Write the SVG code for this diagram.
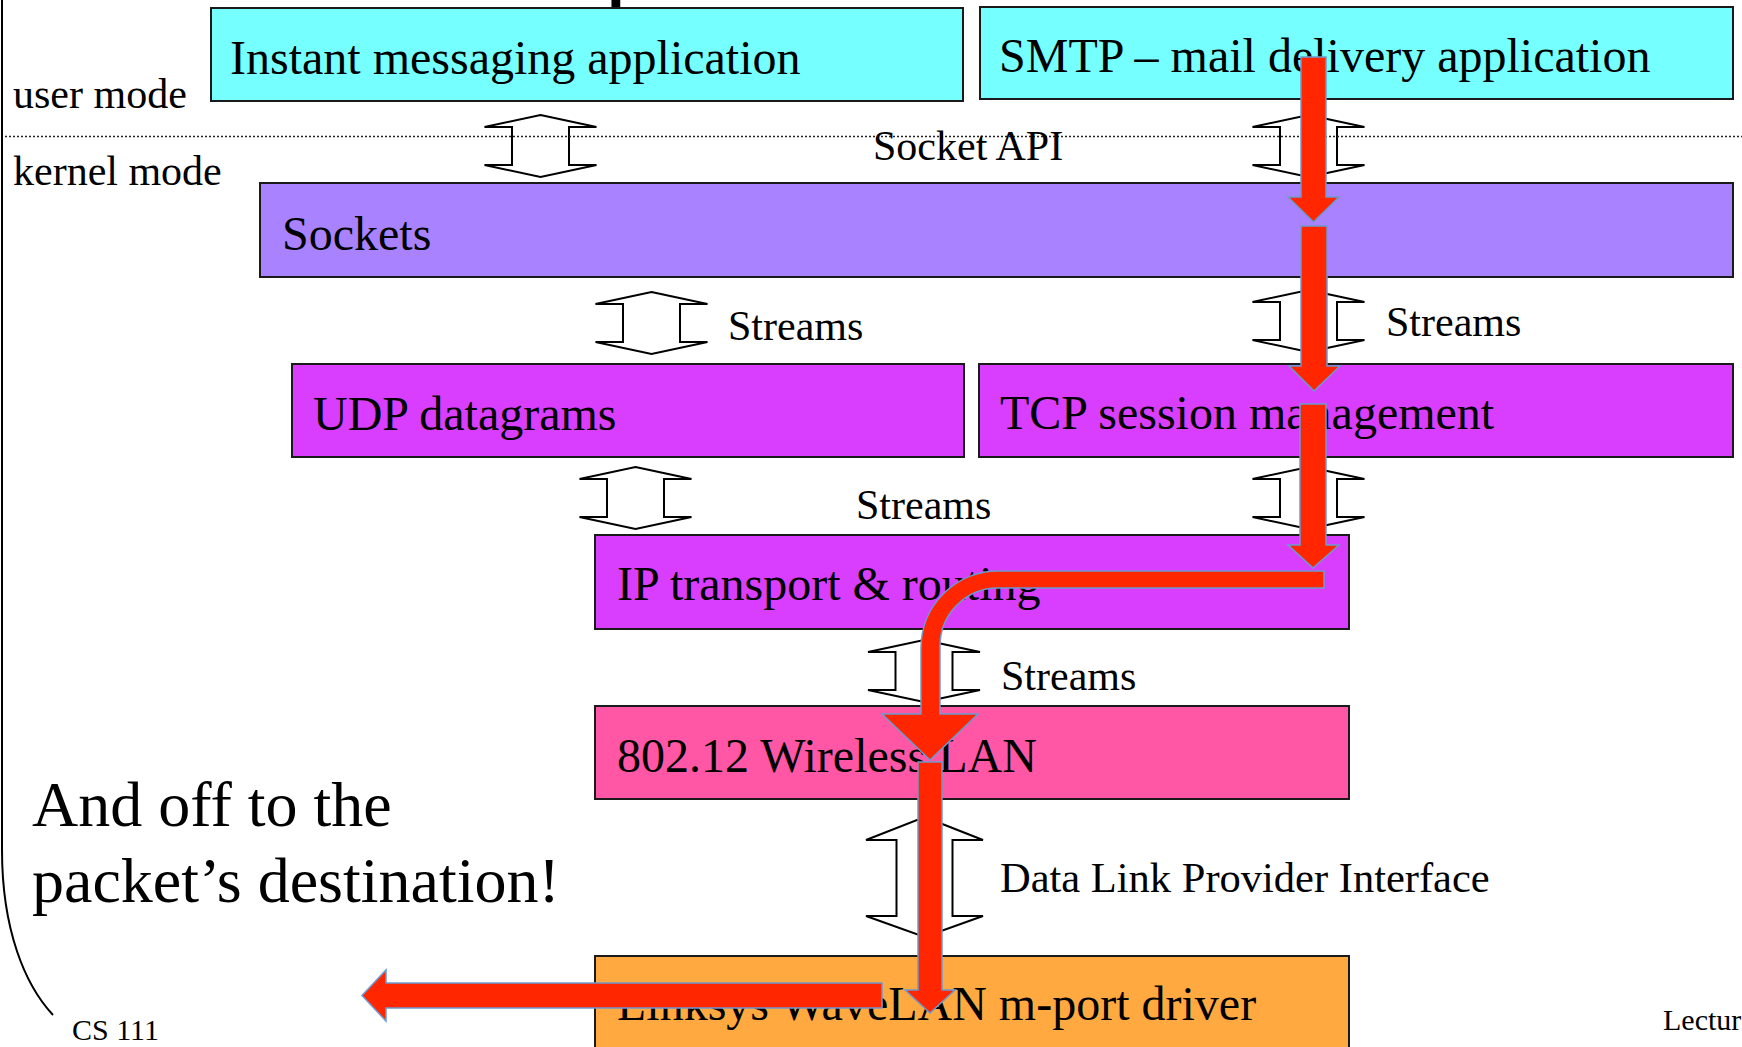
<svg xmlns="http://www.w3.org/2000/svg" width="1742" height="1047" viewBox="0 0 1742 1047">
  <style>
    .box { stroke: #1a1a1a; stroke-width: 2; }
    .app { fill: #75FFFF; }
    .sock { fill: #A982FF; }
    .proto { fill: #D93EFF; }
    .wlan { fill: #FF57A5; }
    .drv { fill: #FFA940; }
    .lbl { font-family: "Liberation Serif", "Times New Roman", serif; font-size: 48px; fill: #000; }
    .note { font-family: "Liberation Serif", "Times New Roman", serif; font-size: 42px; fill: #000; }
    .big { font-family: "Liberation Serif", "Times New Roman", serif; font-size: 64px; fill: #000; }
    .foot { font-family: "Liberation Serif", "Times New Roman", serif; font-size: 30px; fill: #000; }
    .title { font-family: "Liberation Sans", Arial, sans-serif; font-size: 64px; font-weight: bold; fill: #000; }
    .dbl { fill: #fff; stroke: #000; stroke-width: 2; stroke-linejoin: miter; }
    .flow { fill: #FF2600; stroke: #6C9BCF; stroke-width: 1.5; stroke-linejoin: miter; }
  </style>
  <defs>
    <!-- standard two-headed interface arrow, tip at origin, 62 tall -->
    <path id="dbl" d="M0,0 L56,12 L28.5,12 L28.5,50 L56,50 L0,62 L-56,50 L-28.5,50 L-28.5,12 L-56,12 Z"/>
  </defs>

  <rect width="1742" height="1047" fill="#fff"/>

  <!-- slide title, running off the top edge -->
  <text class="title" x="607" y="-6.5">p</text>

  <!-- page frame corner -->
  <path d="M2,0 V850 C2,930 25,985 53,1015" fill="none" stroke="#000" stroke-width="2"/>

  <!-- mode labels -->
  <text class="note" x="13" y="108">user mode</text>
  <text class="note" x="13" y="185">kernel mode</text>

  <!-- layers -->
  <g id="im-app">
    <rect class="box app" x="211" y="8" width="752" height="93"/>
    <text class="lbl" x="230" y="74">Instant messaging application</text>
  </g>
  <g id="smtp-app">
    <rect class="box app" x="980" y="7" width="753" height="92"/>
    <text class="lbl" x="999" y="72">SMTP – mail delivery application</text>
  </g>
  <g id="sockets">
    <rect class="box sock" x="260" y="183" width="1473" height="94"/>
    <text class="lbl" x="282" y="250">Sockets</text>
  </g>
  <g id="udp">
    <rect class="box proto" x="292" y="364" width="672" height="93"/>
    <text class="lbl" x="313" y="430">UDP datagrams</text>
  </g>
  <g id="tcp">
    <rect class="box proto" x="979" y="364" width="754" height="93"/>
    <text class="lbl" x="1000" y="429">TCP session management</text>
  </g>
  <g id="ip">
    <rect class="box proto" x="595" y="535" width="754" height="94"/>
    <text class="lbl" x="617" y="600">IP transport &amp; routing</text>
  </g>
  <g id="wlan">
    <rect class="box wlan" x="595" y="706" width="754" height="93"/>
    <text class="lbl" x="617" y="772">802.12 Wireless LAN</text>
  </g>
  <g id="driver">
    <rect class="box drv" x="595" y="956" width="754" height="110"/>
    <text class="lbl" x="617" y="1020">Linksys WaveLAN m-port driver</text>
  </g>

  <!-- interfaces between layers -->
  <g id="interfaces">
    <use href="#dbl" class="dbl" x="540.5" y="115"/>
    <use href="#dbl" class="dbl" x="1308.5" y="115"/>
    <use href="#dbl" class="dbl" x="651.5" y="292"/>
    <use href="#dbl" class="dbl" x="1308.5" y="290"/>
    <use href="#dbl" class="dbl" x="635.5" y="467"/>
    <use href="#dbl" class="dbl" x="1308.5" y="467"/>
    <use href="#dbl" class="dbl" x="924" y="640"/>
    <polygon class="dbl" points="924.5,817 983,840 952.5,840 952.5,916 983,916 924.5,937 866,916 896.5,916 896.5,840 866,840"/>
  </g>

  <!-- user/kernel boundary -->
  <path d="M5,136.5 H1742" stroke="#222" stroke-width="1.5" stroke-dasharray="2 2" fill="none"/>

  <text class="note" x="873" y="160">Socket API</text>
  <text class="note" x="728" y="340">Streams</text>
  <text class="note" x="1386" y="336">Streams</text>
  <text class="note" x="856" y="519">Streams</text>
  <text class="note" x="1001" y="690">Streams</text>
  <text class="note" x="1000" y="892" style="font-size:42.5px">Data Link Provider Interface</text>

  <!-- packet path through the stack -->
  <g id="packet-path">
    <path class="flow" d="M1301,57 H1326 V197 H1339 L1313.5,222 L1288,197 H1301 Z"/>
    <path class="flow" d="M1301,226 H1327 V366 H1340 L1314,391 L1289,366 H1301 Z"/>
    <path class="flow" d="M1300,404 H1326 V545 H1339 L1313,568 L1288,545 H1300 Z"/>
    <path class="flow" d="M1324,571 V588 H998 A58,58 0 0 0 940,646 V714 H978 L930,760 L882,714 H921 V648 A77,77 0 0 1 998,571 Z"/>
    <path class="flow" d="M882,983 V1008 H386 V1021 L362,995.5 L386,970 V983 Z"/>
    <path class="flow" d="M918,762 H942 V990 H955 L930,1013 L905,990 H918 Z"/>
  </g>

  <text class="big" x="32" y="826">And off to the</text>
  <text class="big" x="32" y="902">packet’s destination!</text>

  <text class="foot" x="72" y="1040">CS 111</text>
  <text class="foot" x="1663" y="1030">Lectur</text>
</svg>
